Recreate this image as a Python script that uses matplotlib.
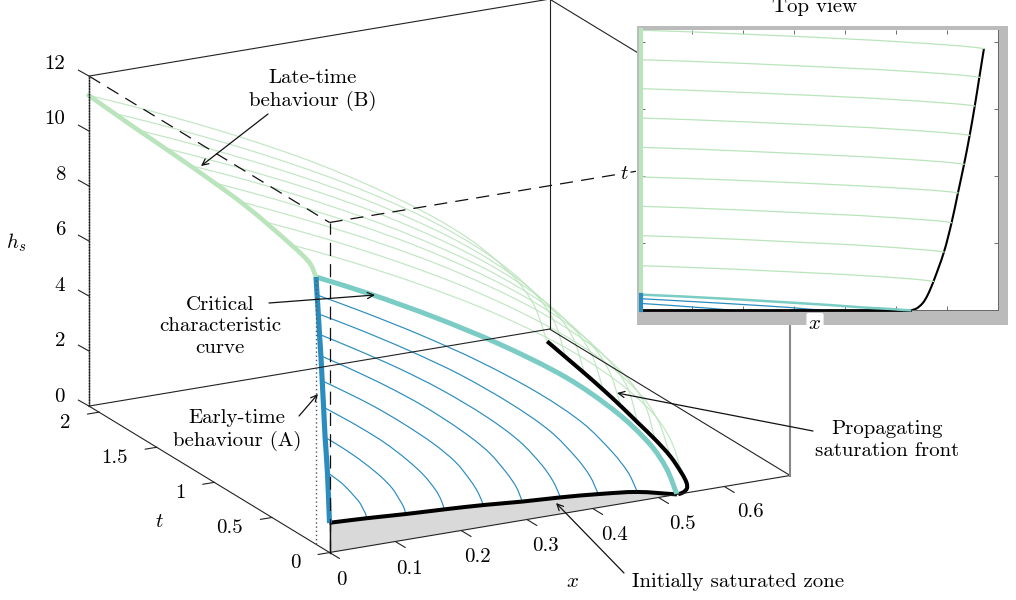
import matplotlib
matplotlib.use("Agg")
import matplotlib.pyplot as plt
from matplotlib.patches import PathPatch, Rectangle
from matplotlib.path import Path
import numpy as np

plt.rcParams["font.family"] = ["cmr10", "DejaVu Serif"]
plt.rcParams["mathtext.fontset"] = "cm"
plt.rcParams["axes.formatter.use_mathtext"] = True

# late-time characteristics, one row per curve
green_x = [
    [0, .098, .221, .344, .468, .561, .623, .654, .673],
    [0, .097, .218, .340, .464, .555, .617, .647, .664],
    [0, .096, .215, .335, .457, .546, .607, .638, .655],
    [0, .094, .212, .330, .450, .538, .598, .628, .645],
    [0, .093, .208, .324, .442, .529, .588, .617, .634],
    [0, .091, .205, .319, .434, .520, .578, .607, .622],
    [0, .089, .201, .313, .426, .510, .567, .595, .6095],
    [0, .087, .195, .304, .414, .496, .551, .578, .5945],
    [0, .084, .188, .293, .400, .478, .532, .558, .574],
]
green_t = [
    [2.09, 2.078, 2.058, 2.037, 2.013, 1.991, 1.974, 1.963, 1.953],
    [1.87, 1.858, 1.84, 1.819, 1.797, 1.776, 1.759, 1.748, 1.739],
    [1.654, 1.642, 1.624, 1.604, 1.582, 1.561, 1.544, 1.534, 1.525],
    [1.435, 1.423, 1.405, 1.385, 1.363, 1.342, 1.325, 1.315, 1.306],
    [1.216, 1.205, 1.187, 1.167, 1.145, 1.125, 1.109, 1.099, 1.09],
    [.995, .984, .968, .949, .928, .909, .894, .884, .876],
    [.776, .765, .748, .728, .708, .688, .672, .663, .654],
    [.557, .546, .529, .509, .489, .469, .453, .444, .435],
    [.333, .322, .306, .287, .267, .249, .234, .224, .216],
]
green_h = [
    [11.29, 10.32, 9.00, 7.51, 5.72, 4.08, 2.56, 1.40, 0],
    [11.2, 10.24, 8.93, 7.45, 5.68, 4.04, 2.54, 1.39, 0],
    [11.13, 10.17, 8.87, 7.40, 5.64, 4.02, 2.53, 1.38, 0],
    [11.05, 10.10, 8.81, 7.35, 5.60, 3.99, 2.51, 1.37, 0],
    [10.98, 10.04, 8.75, 7.30, 5.57, 3.96, 2.49, 1.36, 0],
    [10.9, 9.96, 8.69, 7.25, 5.53, 3.93, 2.47, 1.35, 0],
    [10.78, 9.85, 8.59, 7.17, 5.47, 3.89, 2.45, 1.33, 0],
    [10.6, 9.69, 8.45, 7.05, 5.37, 3.83, 2.41, 1.31, 0],
    [10.34, 9.45, 8.24, 6.88, 5.24, 3.73, 2.35, 1.28, 0],
]

# early-time characteristics
blue_x = [
    [0, .068, .153, .239, .326, .39, .433, .455, .468],
    [0, .06, .134, .209, .284, .34, .378, .397, .4085],
    [0, .051, .115, .179, .244, .292, .325, .341, .351],
    [0, .043, .096, .15, .204, .244, .271, .285, .293],
    [0, .034, .077, .119, .163, .195, .216, .227, .2338],
    [0, .025, .057, .089, .121, .145, .162, .17, .1745],
    [0, .017, .038, .059, .081, .097, .107, .113, .116],
    [0, .008, .019, .029, .039, .047, .052, .055, .0565],
]
blue_t = [
    [.1075, .095, .077, .059, .041, .026, .013, .006, 0],
    [.097, .085, .07, .053, .037, .023, .012, .006, 0],
    [.0867, .076, .062, .048, .033, .021, .01, .005, 0],
    [.0746, .066, .054, .041, .028, .018, .009, .004, 0],
    [.0633, .056, .046, .035, .024, .015, .008, .004, 0],
    [.0512, .045, .037, .028, .019, .012, .006, .003, 0],
    [.038, .033, .027, .021, .014, .009, .005, .002, 0],
    [.018, .016, .013, .01, .007, .004, .002, .001, 0],
]
blue_h = [
    [9.09, 8.23, 7.09, 5.83, 4.37, 3.07, 1.86, 1.07, .33],
    [8.43, 7.65, 6.62, 5.48, 4.15, 2.98, 1.88, 1.17, .49],
    [7.71, 7.01, 6.09, 5.07, 3.88, 2.83, 1.84, 1.20, .60],
    [6.96, 6.34, 5.53, 4.62, 3.57, 2.65, 1.78, 1.21, .68],
    [6.08, 5.56, 4.87, 4.11, 3.23, 2.45, 1.72, 1.24, .79],
    [5.15, 4.73, 4.17, 3.56, 2.84, 2.21, 1.62, 1.23, .87],
    [4.09, 3.78, 3.37, 2.92, 2.39, 1.92, 1.49, 1.20, .935],
    [2.87, 2.69, 2.45, 2.18, 1.87, 1.60, 1.34, 1.18, 1.02],
]
# the top view only has these two of the blue curves
top_view_blue = [2, 5]

# critical characteristic
crit_x = [0, .077, .173, .27, .3675, .44, .489, .513, .528]
crit_t = [.117, .104, .085, .063, .04, .02, .01, .003, 0]
crit_h = [9.72, 8.85, 7.66, 6.33, 4.78, 3.28, 1.95, .98, 0]

# h_s on x=0
early_t = [0, .018, .038, .0512, .0633, .0746, .0867, .097, .1075, .117]
early_h = [1.07, 2.87, 4.09, 5.15, 6.08, 6.96, 7.71, 8.43, 9.09, 9.72]
late_t = [.117, .169, .314, .718, 1.152, 1.702, 2.09]
late_h = [9.72, 10.08, 10.32, 10.74, 10.96, 11.14, 11.29]

# initial condition at t=0
init_x = [0, .0565, .116, .1745, .2338, .293, .351, .4085, .4678, .528]
init_h = [1.08, 1.02, .935, .87, .79, .68, .60, .49, .33, 0]

# saturation front on h=0
front_x = [.53, .54, .552, .562, .574, .5945, .6095, .622, .634, .645, .655, .664, .673]
front_t = [0, .012, .05, .11, .216, .435, .654, .876, 1.09, 1.306, 1.525, 1.739, 1.953]

x_ticks = [0, .1, .2, .3, .4, .5, .6]
t_ticks = [0, .5, 1, 1.5, 2]
h_ticks = [0, 2, 4, 6, 8, 10, 12]
x_max, t_max, h_max = .7, 2.086, 12

GREEN = "#bae4bc"
TEAL = "#7bccc4"
BLUE = "#2b8cbe"
FS = 15


def project(x, t, h):
    # orthographic view, returns figure pixels
    x, t, h = np.asarray(x, float), np.asarray(t, float), np.asarray(h, float)
    return 329.5 + 658 * x - 115.3 * t, 552.5 - 110 * x - 70.2 * t - 27.5 * h


def smooth_line(ax, xs, ys, **kw):
    # runs a bezier through the read points so the curves dont look faceted
    p = np.column_stack([xs, ys])
    seg = np.hypot(*np.diff(p, axis=0).T)
    tan = np.zeros_like(p)
    tan[1:-1] = (p[2:] - p[:-2]) / (seg[1:] + seg[:-1])[:, None]
    tan[0] = (p[1] - p[0]) / seg[0]
    tan[-1] = (p[-1] - p[-2]) / seg[-1]
    verts = [p[0]]
    codes = [Path.MOVETO]
    for i in range(len(seg)):
        verts += [p[i] + tan[i] * seg[i] / 3, p[i + 1] - tan[i + 1] * seg[i] / 3, p[i + 1]]
        codes += [Path.CURVE4] * 3
    ax.add_patch(PathPatch(Path(verts, codes), fill=False, **kw))


def seg3(ax, a, b, **kw):
    px, py = project(*zip(a, b))
    ax.plot(px, py, **kw)


fig = plt.figure(figsize=(10.16, 6), dpi=100)
ax = fig.add_axes([0, 0, 1, 1])
ax.set_xlim(0, 1016)
ax.set_ylim(600, 0)
ax.axis("off")

# bounding box
solid = dict(color="#222222", lw=0.8, solid_capstyle="round")
dash = dict(color="#111111", lw=0.9, dashes=(10.5, 6.5))
seg3(ax, (0, t_max, h_max), (x_max, t_max, h_max), **solid)
seg3(ax, (x_max, t_max, 0), (x_max, t_max, h_max), **solid)
seg3(ax, (x_max, t_max, h_max), (x_max, 0, h_max), **solid)
seg3(ax, (0, t_max, 0), (x_max, t_max, 0), **solid)
seg3(ax, (x_max, t_max, 0), (x_max, 0, 0), **solid)
seg3(ax, (0, 0, 0), (x_max, 0, 0), **solid)
seg3(ax, (0, 0, 0), (0, t_max, 0), **solid)
seg3(ax, (x_max, 0, 0), (x_max, 0, h_max), color="#888888", lw=1.5)
seg3(ax, (0, t_max, h_max), (0, 0, h_max), **dash)
seg3(ax, (0, 0, h_max), (x_max, 0, h_max), **dash)
seg3(ax, (0, 0, 0), (0, 0, h_max), **dash)
seg3(ax, (0, t_max, 0), (0, t_max, h_max), color="#555555", lw=1.0)
seg3(ax, (0, t_max, 0), (0, t_max, h_max), color="#111111", lw=1.0, ls=(0, (1, 1)))
seg3(ax, (0, .117, 0), (0, .117, 9.72), color="#555555", lw=1.0, ls=(0, (1, 2)))

# ticks and tick labels
for v in h_ticks:
    px, py = project(0, t_max, v)
    ax.plot([px - 10.7, px], [py - 6, py], **solid)
    ax.text(65, py - 9.5 - .23 * v, str(v), ha="right", va="center", fontsize=FS)
for v in t_ticks:
    px, py = project(0, v, 0)
    ax.plot([px - 11.5, px + .5], [py + 2, py], **solid)
    ax.text(px - 29, py + 11, f"{v:g}", ha="right", va="center", fontsize=FS)
for v in x_ticks:
    px, py = project(v, 0, 0)
    ax.plot([px, px + 10], [py, py + 6], **solid)
    ax.text(px + 11.5 + 25 * v, py + 27.5 - 2.5 * v, f"{v:g}", ha="center", va="center", fontsize=FS)
ax.text(16, 243, r"$h_s$", ha="center", va="center", fontsize=FS)
ax.text(159, 522, r"$t$", ha="center", va="center", fontsize=FS)
ax.text(573, 582, r"$x$", ha="center", va="center", fontsize=FS)

# initially saturated wedge
ix, iy = project(init_x, np.zeros(len(init_x)), init_h)
bx, by = project(init_x, np.zeros(len(init_x)), np.zeros(len(init_x)))
ax.fill(np.r_[ix, bx[::-1]], np.r_[iy, by[::-1]], color="#d9d9d9", lw=0)
seg3(ax, (0, 0, 0), (0, 0, init_h[0]), color="#111111", lw=1.0)

for xs, ts, hs in zip(green_x, green_t, green_h):
    smooth_line(ax, *project(xs, ts, hs), color=GREEN, lw=0.85, alpha=.9)
for xs, ts, hs in zip(blue_x, blue_t, blue_h):
    smooth_line(ax, *project(xs, ts, hs), color=BLUE, lw=0.85)

fx, fy = project(front_x, front_t, np.zeros(len(front_x)))
smooth_line(ax, fx, fy, color="black", lw=2.9, capstyle="butt")
smooth_line(ax, ix, iy, color="black", lw=2.9, capstyle="butt")
smooth_line(ax, *project(crit_x, crit_t, crit_h), color=TEAL, lw=3.6, capstyle="butt")
smooth_line(ax, *project(np.zeros(len(late_t)), late_t, late_h), color=GREEN, lw=3.3, capstyle="round")
smooth_line(ax, *project(np.zeros(len(early_t)), early_t, early_h), color=BLUE, lw=3.7, capstyle="butt")

# top view panel
ax.add_patch(Rectangle((637.3, 26), 370.7, 299, color="#bbbbbb", lw=0, zorder=5))
inset = fig.add_axes([641 / 1016, 1 - 310.3 / 600, 356.7 / 1016, 280.3 / 600])
inset.set_xlim(0, x_max)
inset.set_ylim(0, 280.3 / 134)
for xs, ts in zip(green_x, green_t):
    inset.plot(xs, ts, color=GREEN, lw=0.9)
for i in top_view_blue:
    inset.plot(blue_x[i], blue_t[i], color=BLUE, lw=0.9, clip_on=False)
smooth_line(inset, front_x, front_t, color="black", lw=1.5, clip_on=False)
inset.plot(init_x, np.zeros(len(init_x)), color="black", lw=2.0, clip_on=False, zorder=3)
inset.plot(crit_x, crit_t, color=TEAL, lw=1.8, clip_on=False, zorder=4)
inset.plot(np.zeros(len(late_t)), late_t, color=GREEN, lw=3.0, clip_on=False, zorder=4)
inset.plot(np.zeros(len(early_t)), early_t, color=BLUE, lw=3.0, clip_on=False, zorder=5)
inset.set_xticks([.1, .2, .3, .4, .5, .6])
inset.set_yticks([.5, 1, 1.5, 2])
inset.tick_params(direction="in", length=3, width=.6, color="#555555",
                  top=True, right=True, labelbottom=False, labelleft=False)
for name, s in inset.spines.items():
    s.set_linewidth(.7)
    s.set_color("#666666")
    s.set_visible(name in ("right", "bottom"))

ax.text(815, 12.5, "Top view", ha="center", va="baseline", fontsize=FS)
ax.text(624, 174, r"$t$", ha="center", va="center", fontsize=FS, zorder=6,
        bbox=dict(boxstyle="round,pad=0.1", fc="white", ec="none"))
ax.text(815, 324, r"$x$", ha="center", va="center", fontsize=FS, zorder=6,
        bbox=dict(boxstyle="round,pad=0.1", fc="white", ec="none"))

# annotations
arrow = dict(arrowstyle="->,head_length=0.45,head_width=0.22", lw=0.9, color="#111111",
             shrinkA=0, shrinkB=0)
notes = [
    ("Late-time\nbehaviour (B)", (313, 90), (268, 114), (201, 166)),
    ("Critical\ncharacteristic\ncurve", (220, 326.5), (269, 303), (375, 295)),
    ("Early-time\nbehaviour (A)", (237, 430), (299, 416), (318, 394)),
    ("Propagating\nsaturation front", (887, 440), (813, 431), (617, 393)),
]
for label, centre, start, tip in notes:
    ax.text(*centre, label, ha="center", va="center", fontsize=FS, linespacing=1.27)
    ax.annotate("", xy=tip, xytext=start, arrowprops=arrow, zorder=7)
ax.text(632, 582, "Initially saturated zone", ha="left", va="center", fontsize=FS)
ax.annotate("", xy=(556, 503), xytext=(624, 573), arrowprops=arrow)

fig.savefig("out.png", dpi=100)
